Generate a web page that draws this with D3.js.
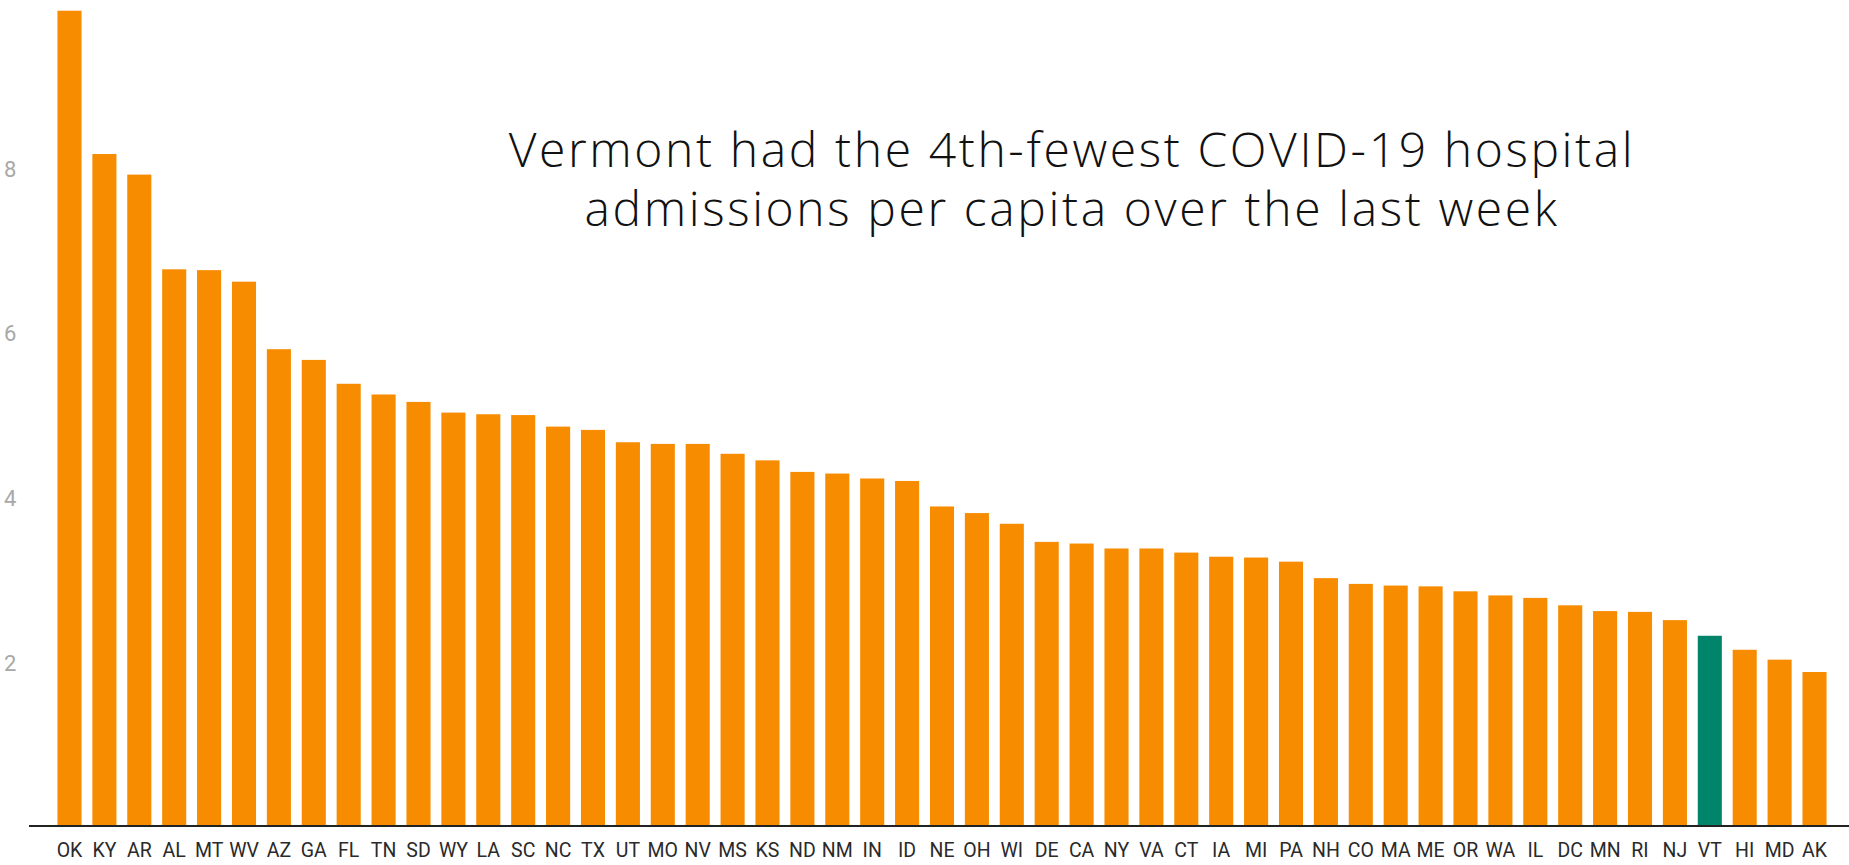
<!DOCTYPE html>
<html>
<head>
<meta charset="utf-8">
<script src="https://cdn.jsdelivr.net/npm/d3@7"></script>
<style>
  html, body { margin: 0; padding: 0; background: #ffffff; }
  svg { display: block; }
</style>
</head>
<body>
<svg id="chart" width="1849" height="865"></svg>
<script>
const states = ["OK","KY","AR","AL","MT","WV","AZ","GA","FL","TN","SD","WY","LA","SC","NC","TX","UT","MO","NV","MS","KS","ND","NM","IN","ID","NE","OH","WI","DE","CA","NY","VA","CT","IA","MI","PA","NH","CO","MA","ME","OR","WA","IL","DC","MN","RI","NJ","VT","HI","MD","AK"];
const admissions = [9.90,8.16,7.91,6.76,6.75,6.61,5.79,5.66,5.37,5.24,5.15,5.02,5.00,4.99,4.85,4.81,4.66,4.64,4.64,4.52,4.44,4.30,4.28,4.22,4.19,3.88,3.80,3.67,3.45,3.43,3.37,3.37,3.32,3.27,3.26,3.21,3.01,2.94,2.92,2.91,2.85,2.80,2.77,2.68,2.61,2.60,2.50,2.31,2.14,2.02,1.87];
const yTickValues = [2,4,6,8];
const highlightState = "VT";
const titleLines = ["Vermont had the 4th-fewest COVID-19 hospital", "admissions per capita over the last week"];

const W = 1849, H = 865;
const svg = d3.select("#chart");

const x = d3.scaleBand().domain(states).range([40, 1844]).paddingInner(0.31).paddingOuter(0.5);
const y = d3.scaleLinear().domain([0, 10]).range([826, 2.5]);

// bars
svg.append("g").selectAll("rect")
  .data(states.map((s, i) => ({ s, v: admissions[i] })))
  .join("rect")
  .attr("x", d => x(d.s))
  .attr("width", x.bandwidth())
  .attr("y", d => y(d.v))
  .attr("height", d => y(0) - y(d.v))
  .attr("fill", d => d.s === highlightState ? "#00856a" : "#f78c00");

// y axis (labels only)
const yAxis = svg.append("g")
  .attr("transform", "translate(4,2)")
  .call(d3.axisLeft(y).tickValues(yTickValues).tickSize(0).tickPadding(0));
yAxis.select(".domain").remove();
yAxis.selectAll("text")
  .attr("text-anchor", "start")
  .attr("x", 0)
  .attr("fill", "#a8a8a8")
  .style("font-family", "Roboto, 'Noto Sans', sans-serif")
  .style("font-size", "22px");

// baseline
svg.append("line")
  .attr("x1", 29).attr("x2", W)
  .attr("y1", y(0)).attr("y2", y(0))
  .attr("stroke", "#222").attr("stroke-width", 2);

// x axis labels
const xAxis = svg.append("g")
  .attr("transform", `translate(0,${y(0)})`)
  .call(d3.axisBottom(x).tickSize(0).tickPadding(17));
xAxis.select(".domain").remove();
xAxis.selectAll("text")
  .attr("fill", "#2a2a2a")
  .style("font-family", "Roboto, 'Noto Sans', sans-serif")
  .style("font-size", "19.5px");

// title
const title = svg.append("text")
  .attr("text-anchor", "middle")
  .attr("fill", "#111")
  .style("font-family", "'Open Sans', Lato, sans-serif")
  .style("font-weight", 300)
  .style("font-size", "46px");
title.selectAll("tspan")
  .data(titleLines)
  .join("tspan")
  .attr("x", 1072)
  .attr("y", (d, i) => 167 + i * 59)
  .text(d => d);
// fit the first line to the reference width: slightly smaller glyphs, wider tracking
const firstLen = title.select("tspan").node().getComputedTextLength();
if (firstLen > 0) {
  const fs = 46 * 1124 / firstLen * 0.9;
  title.style("font-size", fs.toFixed(1) + "px");
  const len2 = title.select("tspan").node().getComputedTextLength();
  const ls = (1124 - len2) / (titleLines[0].length - 1);
  title.style("letter-spacing", ls.toFixed(2) + "px");
}
</script>
</body>
</html>
